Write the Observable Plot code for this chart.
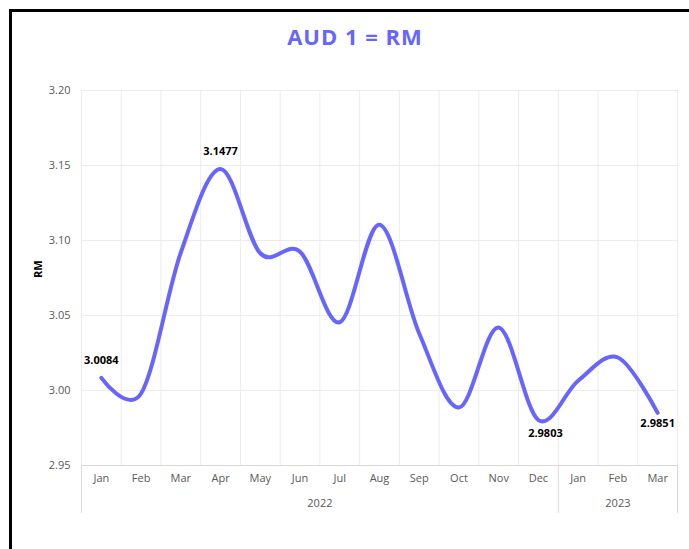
<!DOCTYPE html>
<html><head><meta charset="utf-8">
<script src="https://cdn.jsdelivr.net/npm/d3@7"></script>
<script src="https://cdn.jsdelivr.net/npm/@observablehq/plot@0.6"></script>
<style>
html,body{margin:0;padding:0;background:#fff;overflow:hidden;}
#wrap{position:relative;width:689px;height:549px;overflow:hidden;}
#frame{position:absolute;left:9px;top:9px;width:800px;height:600px;border:3px solid #000;box-sizing:border-box;}
#title{position:absolute;left:0;width:710px;top:21px;text-align:center;font:bold 22px "Open Sans",sans-serif;color:#6666FF;letter-spacing:1px;}
#chart{position:absolute;left:0;top:0;}
</style></head><body>
<div id="wrap"><div id="frame"></div><div id="title">AUD 1 = RM</div><div id="chart"></div></div>
<script>
const months = ["Jan","Feb","Mar","Apr","May","Jun","Jul","Aug","Sep","Oct","Nov","Dec","Jan","Feb","Mar"];
const years = ["2022","2022","2022","2022","2022","2022","2022","2022","2022","2022","2022","2022","2023","2023","2023"];
const rates = [3.0084,2.998,3.092,3.1477,3.0915,3.0925,3.0455,3.1105,3.038,2.9887,3.042,2.9803,3.0065,3.022,2.9851];
const labelled = [0,3,11,14];
const yTicks = [2.95,3.00,3.05,3.10,3.15,3.20];

const data = rates.map((v,i)=>({i, v, month: months[i], year: years[i]}));
const yearGroups = d3.groups(data, d=>d.year).map(([y,rows])=>({year:y, c:(rows[0].i+rows[rows.length-1].i)/2, start:rows[0].i-0.5, end:rows[rows.length-1].i+0.5}));
const bounds = d3.range(-0.5, months.length, 1);
const yearBounds = Array.from(new Set(yearGroups.flatMap(g=>[g.start,g.end])));
const labels = data.filter(d=>labelled.includes(d.i));
const above = labels.filter(d=>d.i===0||d.i===3);
const belowDec = labels.filter(d=>d.i===11);
const belowEnd = labels.filter(d=>d.i===14);

const fontFam = "'Open Sans', sans-serif";
const plot = Plot.plot({
  width: 689, height: 549,
  marginLeft: 81, marginRight: 12, marginTop: 90, marginBottom: 84,
  style: {fontFamily: fontFam, fontSize: "11px", color: "#595959", background: "transparent", overflow: "visible"},
  x: {domain: [-0.5, months.length-0.5], axis: null},
  y: {domain: [2.95, 3.20], axis: null},
  marks: [
    Plot.ruleY(yTicks, {stroke: "#ececec", strokeWidth: 1}),
    Plot.ruleX(bounds, {stroke: "#ececec", strokeWidth: 1}),
    Plot.ruleY([2.95], {stroke: "#d9d9d9", strokeWidth: 1}),
    Plot.tickX(yearBounds, {x: d=>d, stroke: "#d9d9d9", strokeWidth: 1, insetTop: 375, insetBottom: -48}),
    Plot.axisY({ticks: yTicks, tickSize: 0, tickPadding: 11, tickFormat: d3.format(".2f"), label: null, fill: "#595959", fontSize: 11}),
    Plot.text(["RM"], {frameAnchor: "left", dx: -43, rotate: -90, fontWeight: "bold", fill: "#000", fontSize: 11}),
    Plot.text(data, {x: "i", text: "month", frameAnchor: "bottom", dy: 16, fill: "#595959", fontSize: 11}),
    Plot.text(yearGroups, {x: "c", text: "year", frameAnchor: "bottom", dy: 41, fill: "#595959", fontSize: 11}),
    Plot.line(data, {x: "i", y: "v", curve: "cardinal", stroke: "#6666FF", strokeWidth: 4, strokeLinecap: "round"}),
    Plot.text(above, {x: "i", y: "v", text: d=>d.v.toFixed(4), dy: -17, fontWeight: "bold", fill: "#000", fontSize: 11}),
    Plot.text(belowDec, {x: "i", y: "v", text: d=>d.v.toFixed(4), dy: 13, dx: 7, fontWeight: "bold", fill: "#000", fontSize: 11}),
    Plot.text(belowEnd, {x: "i", y: "v", text: d=>d.v.toFixed(4), dy: 11, fontWeight: "bold", fill: "#000", fontSize: 11})
  ]
});
document.getElementById("chart").appendChild(plot);
</script>
</body></html>
